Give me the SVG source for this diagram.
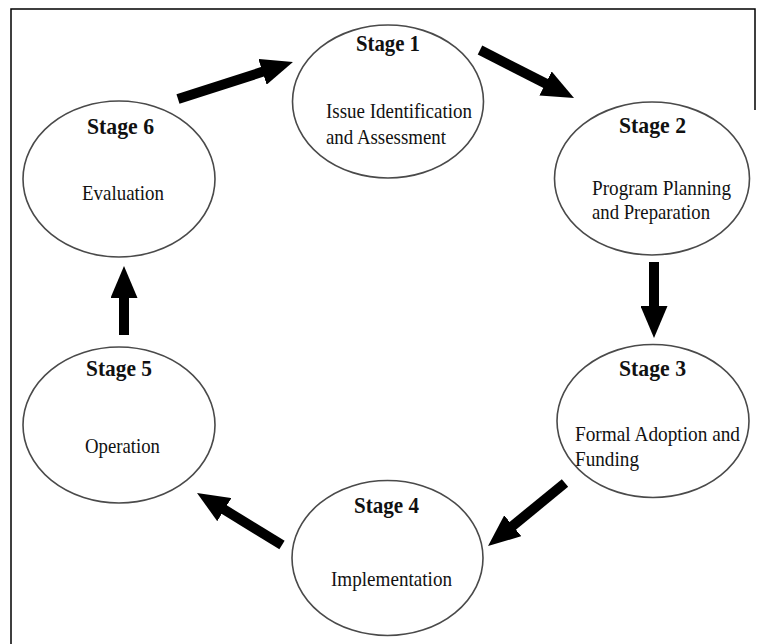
<svg xmlns="http://www.w3.org/2000/svg" width="763" height="644" viewBox="0 0 763 644">
<style>
  .node ellipse { fill: #ffffff; stroke: #4a4a4a; stroke-width: 1.6; }
  .title { font-family: "Liberation Serif", "Times New Roman", serif; font-weight: bold; font-size: 24px; fill: #111; }
  .body { font-family: "Liberation Serif", "Times New Roman", serif; font-size: 22px; fill: #111; }
  .frame { stroke: #000; stroke-width: 1.5; fill: none; }
  .arrow { stroke: #000; stroke-width: 10; fill: none; marker-end: url(#head); }
</style>
<defs>
  <marker id="head" markerUnits="userSpaceOnUse" viewBox="0 0 32 27" markerWidth="32" markerHeight="27" refX="4" refY="13.5" orient="auto">
    <path d="M0,0 L32,13.5 L0,27 Z" fill="#000"/>
  </marker>
</defs>
<rect width="763" height="644" fill="#ffffff"/>
<g id="frame">
  <path class="frame" d="M11,644 L11,9 L755,9 L755,110"/>
</g>
<g id="connectors">
  <line class="arrow" x1="178" y1="99" x2="266.3" y2="70.6"/>
  <line class="arrow" x1="480" y1="50" x2="549.1" y2="85.3"/>
  <line class="arrow" x1="654" y1="262" x2="654" y2="310"/>
  <line class="arrow" x1="565" y1="483" x2="509.7" y2="528.3"/>
  <line class="arrow" x1="282" y1="545" x2="220.9" y2="507.6"/>
  <line class="arrow" x1="124" y1="335" x2="124" y2="294"/>
</g>
<g id="stage1" class="node">
  <ellipse cx="388" cy="101.5" rx="95.5" ry="76.5"/>
  <text class="title" x="356" y="51" textLength="64" lengthAdjust="spacingAndGlyphs">Stage 1</text>
  <text class="body" x="326" y="118" textLength="146" lengthAdjust="spacingAndGlyphs">Issue Identification</text>
  <text class="body" x="326" y="144" textLength="120" lengthAdjust="spacingAndGlyphs">and Assessment</text>
</g>
<g id="stage2" class="node">
  <ellipse cx="652" cy="178.5" rx="97.5" ry="76.5"/>
  <text class="title" x="619" y="133" textLength="67" lengthAdjust="spacingAndGlyphs">Stage 2</text>
  <text class="body" x="592" y="195" textLength="139" lengthAdjust="spacingAndGlyphs">Program Planning</text>
  <text class="body" x="592" y="219" textLength="118" lengthAdjust="spacingAndGlyphs">and Preparation</text>
</g>
<g id="stage3" class="node">
  <ellipse cx="653" cy="421" rx="96" ry="76.5"/>
  <text class="title" x="619" y="376" textLength="67" lengthAdjust="spacingAndGlyphs">Stage 3</text>
  <text class="body" x="575" y="441" textLength="165" lengthAdjust="spacingAndGlyphs">Formal Adoption and</text>
  <text class="body" x="575" y="466" textLength="64" lengthAdjust="spacingAndGlyphs">Funding</text>
</g>
<g id="stage4" class="node">
  <ellipse cx="387.5" cy="558" rx="95.5" ry="77.5"/>
  <text class="title" x="354" y="513" textLength="65" lengthAdjust="spacingAndGlyphs">Stage 4</text>
  <text class="body" x="331" y="586" textLength="121" lengthAdjust="spacingAndGlyphs">Implementation</text>
</g>
<g id="stage5" class="node">
  <ellipse cx="119" cy="425" rx="96" ry="78"/>
  <text class="title" x="86" y="376" textLength="66" lengthAdjust="spacingAndGlyphs">Stage 5</text>
  <text class="body" x="85" y="453" textLength="75" lengthAdjust="spacingAndGlyphs">Operation</text>
</g>
<g id="stage6" class="node">
  <ellipse cx="119" cy="179" rx="96" ry="78"/>
  <text class="title" x="87" y="134" textLength="67" lengthAdjust="spacingAndGlyphs">Stage 6</text>
  <text class="body" x="82" y="200" textLength="82" lengthAdjust="spacingAndGlyphs">Evaluation</text>
</g>
</svg>
